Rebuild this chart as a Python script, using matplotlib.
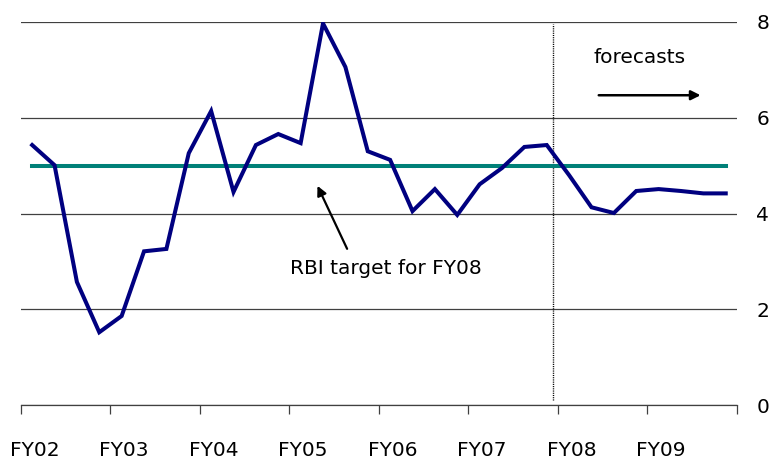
import numpy as np
import matplotlib.pyplot as plt
from matplotlib.ticker import FixedLocator

# quarterly inflation, FY02 Q1 .. FY09 Q4 (last 8 quarters are forecasts)
inflation = [5.43, 5.01, 2.57, 1.52, 1.86, 3.21, 3.26, 5.26,
             6.14, 4.45, 5.43, 5.66, 5.47, 7.97, 7.06, 5.30,
             5.12, 4.05, 4.51, 3.97, 4.61, 4.95, 5.39, 5.43,
             4.80, 4.13, 4.01, 4.47, 4.51, 4.47, 4.42, 4.42]
years = ['FY02', 'FY03', 'FY04', 'FY05', 'FY06', 'FY07', 'FY08', 'FY09']
rbi_target = 5.0
forecast_start = 23.8

plt.rcParams['font.family'] = ['DejaVu Sans']

fig = plt.figure(figsize=(7.71, 4.59), dpi=100)
ax = fig.add_axes([0.0272, 0.1176, 0.9286, 0.8345])

x = np.arange(len(inflation)) + 0.5
ax.plot(x, inflation, color='#000080', lw=2.9, solid_joinstyle='miter', zorder=3)
ax.plot([x[0], x[-1]], [rbi_target, rbi_target], color='#008078', lw=2.9, zorder=2)

ax.plot([forecast_start, forecast_start], [0.1, 7.95], color='black', lw=1,
        linestyle=(0, (0.8, 0.8)), zorder=1)

ax.set_xlim(0, len(inflation))
ax.set_ylim(0, 8)

for spine in ['top', 'left', 'right']:
    ax.spines[spine].set_visible(False)
ax.spines['bottom'].set_color('#404040')
ax.spines['bottom'].set_linewidth(0.9)

# year boundaries as ticks, labels under the first quarter of each year
ax.xaxis.set_major_locator(FixedLocator(np.arange(0, len(inflation) + 1, 4)))
ax.xaxis.set_minor_locator(FixedLocator(np.arange(0, len(inflation), 4) + 0.6))
ax.set_xticklabels([])
ax.set_xticklabels(years, minor=True)
ax.tick_params(axis='x', which='major', length=6.5, width=0.9, color='#404040')
ax.tick_params(axis='x', which='minor', length=0, pad=26, labelsize=14.5)

ax.yaxis.tick_right()
ax.set_yticks([0, 2, 4, 6, 8])
ax.tick_params(axis='y', length=0, pad=14, labelsize=14.5)
ax.grid(axis='y', color='#404040', lw=0.9)
ax.set_axisbelow(True)

ax.text(25.6, 7.25, 'forecasts', fontsize=14.5, ha='left', va='center')
ax.annotate('', xy=(30.5, 6.47), xytext=(25.7, 6.47),
            arrowprops=dict(arrowstyle='-|>', color='black', lw=1.8,
                            mutation_scale=14))

ax.annotate('RBI target for FY08', xy=(13.2, 4.63), xytext=(16.3, 2.86),
            fontsize=14.5, ha='center', va='center')
ax.annotate('', xy=(13.2, 4.63), xytext=(14.63, 3.21),
            arrowprops=dict(arrowstyle='-|>', color='black', lw=1.6,
                            mutation_scale=14))

fig.savefig('out.png', dpi=100)
